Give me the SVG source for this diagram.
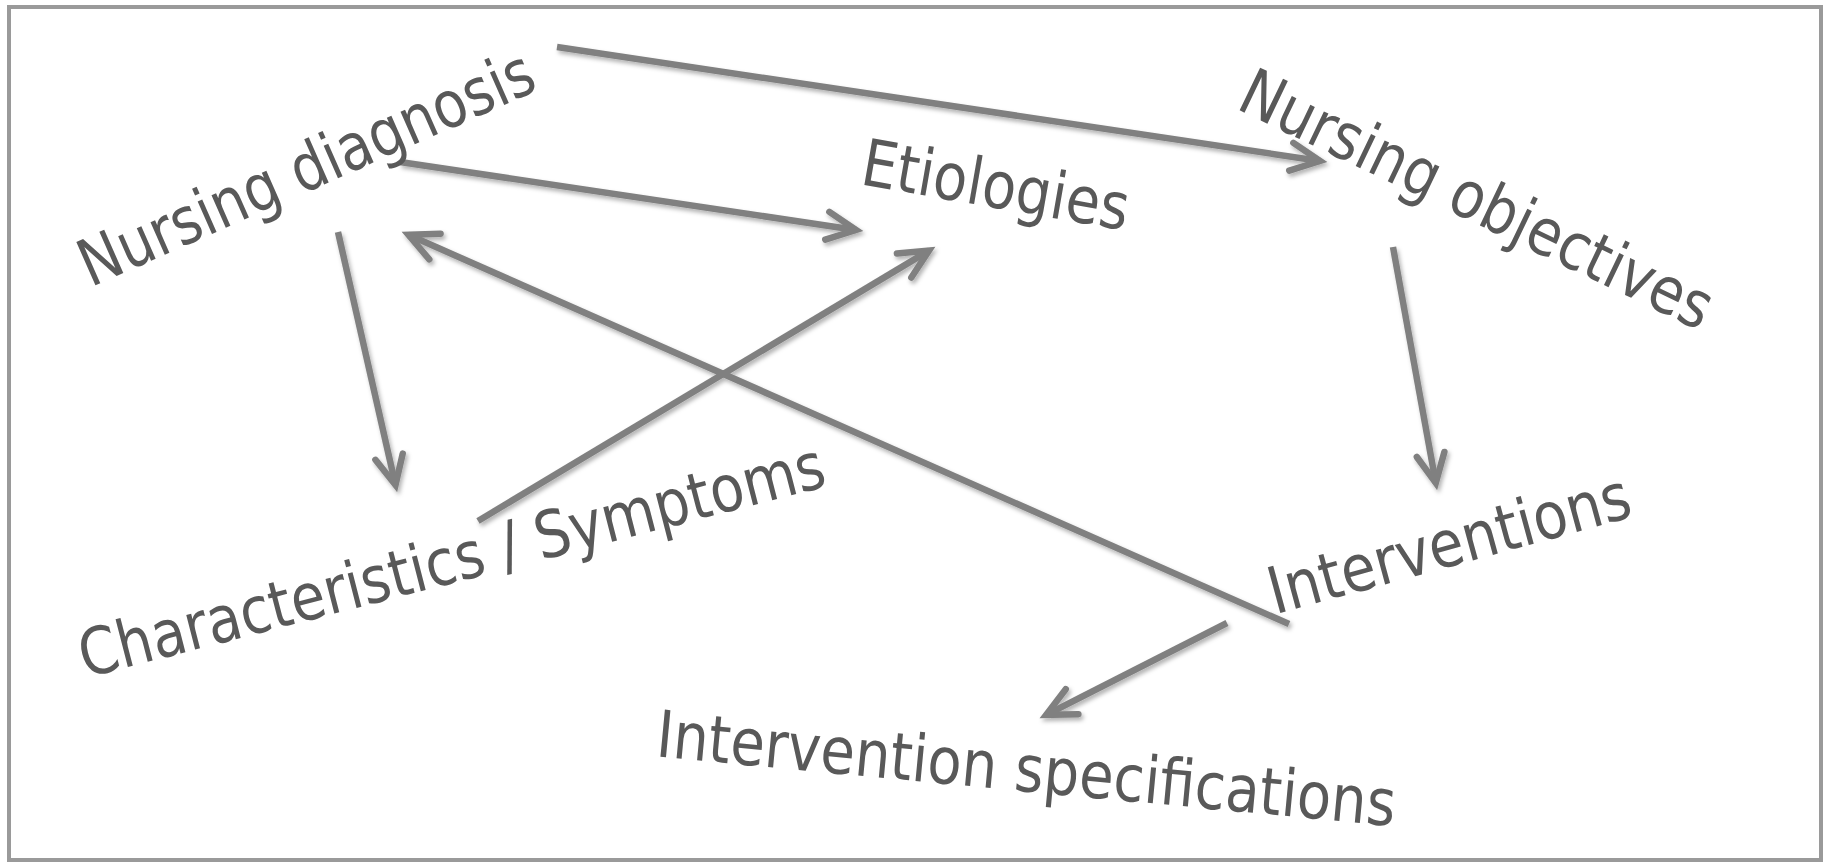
<svg xmlns="http://www.w3.org/2000/svg" width="1829" height="863" viewBox="0 0 1829 863">
  <style>
    .lbl { font-family: "DejaVu Sans", Verdana, sans-serif; font-size: 65px; fill: #595959; }
    .conn { fill: none; stroke: #808080; stroke-width: 6.5; stroke-linecap: butt; marker-end: url(#ah); }
    .frame { fill: #ffffff; stroke: #9a9a9a; stroke-width: 4; }
  </style>
  <defs>
    <marker id="ah" markerUnits="userSpaceOnUse" markerWidth="90" markerHeight="90" viewBox="-45 -45 90 90" refX="0" refY="0" orient="auto" overflow="visible">
      <path d="M-29,-14 L0,0 L-29,14" fill="none" stroke="#808080" stroke-width="6.5" stroke-linecap="round" stroke-linejoin="miter"/>
    </marker>
    <filter id="sh" x="-10%" y="-10%" width="120%" height="120%">
      <feDropShadow dx="2" dy="3" stdDeviation="2" flood-color="#000000" flood-opacity="0.3"/>
    </filter>
  </defs>
  <rect class="frame" x="9" y="7" width="1812" height="853"/>
  <g id="connectors" filter="url(#sh)">
    <line class="conn" x1="557" y1="47" x2="1320" y2="161"/>
    <line class="conn" x1="400" y1="162" x2="856" y2="230"/>
    <line class="conn" x1="338" y1="232" x2="395.5" y2="485"/>
    <line class="conn" x1="478" y1="521" x2="929" y2="250.6"/>
    <line class="conn" x1="1289" y1="624" x2="408.4" y2="234.8"/>
    <line class="conn" x1="1393" y1="247" x2="1435.8" y2="483"/>
    <line class="conn" x1="1227" y1="623" x2="1046.2" y2="714.8"/>
  </g>
  <g id="nursing-diagnosis">
    <text class="lbl" x="90.5" y="287.4" transform="rotate(-23.8 90.5 287.4)" textLength="491" lengthAdjust="spacingAndGlyphs">Nursing diagnosis</text>
  </g>
  <g id="etiologies">
    <text class="lbl" x="859" y="184" transform="rotate(9.9 859 184)" textLength="270" lengthAdjust="spacingAndGlyphs">Etiologies</text>
  </g>
  <g id="nursing-objectives">
    <text class="lbl" x="1234.7" y="108" transform="rotate(25.6 1234.7 108)" textLength="516" lengthAdjust="spacingAndGlyphs">Nursing objectives</text>
  </g>
  <g id="characteristics-symptoms">
    <text class="lbl" x="85.3" y="678" transform="rotate(-14.5 85.3 678)" textLength="768" lengthAdjust="spacingAndGlyphs">Characteristics / Symptoms</text>
  </g>
  <g id="interventions">
    <text class="lbl" x="1275" y="614.5" transform="rotate(-15.3 1275 614.5)" textLength="373" lengthAdjust="spacingAndGlyphs">Interventions</text>
  </g>
  <g id="intervention-specifications">
    <text class="lbl" x="655" y="756.3" transform="rotate(5.4 655 756.3)" textLength="742" lengthAdjust="spacingAndGlyphs">Intervention specifications</text>
  </g>
</svg>
